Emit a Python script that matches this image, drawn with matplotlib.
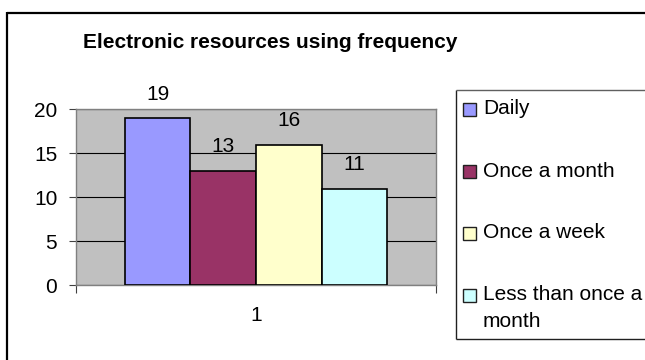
import matplotlib
matplotlib.use("Agg")
import matplotlib.pyplot as plt
from matplotlib.patches import Rectangle
from matplotlib.lines import Line2D
import numpy as np

plt.rcParams['font.family'] = ['Liberation Sans', 'DejaVu Sans']

# Data
categories = ["Daily", "Once a month", "Once a week", "Less than once a\nmonth"]
values = [19, 13, 16, 11]
colors = ["#9999FF", "#993366", "#FFFFCC", "#CCFFFF"]
group_labels = ["1"]
y_ticks = [0, 5, 10, 15, 20]

W, H = 645, 360
fig = plt.figure(figsize=(W / 100, H / 100), dpi=100)
fig.patch.set_facecolor("white")

def fx(px):
    return px / W

def fy(py):
    return 1 - py / H

def hline(x0, x1, y, **kw):
    fig.add_artist(Line2D([fx(x0), fx(x1)], [fy(y), fy(y)],
                          transform=fig.transFigure, solid_capstyle="butt", **kw))

def vline(x, y0, y1, **kw):
    fig.add_artist(Line2D([fx(x), fx(x)], [fy(y0), fy(y1)],
                          transform=fig.transFigure, solid_capstyle="butt", **kw))

# Outer chart frame (left and top edges visible)
vline(7, 12.4, 360, color="black", lw=1.6)
hline(7, 645, 13, color="black", lw=1.6)

# Plot area
ax_l, ax_r, ax_t, ax_b = 76, 436, 109.3, 285.3
ax = fig.add_axes([fx(ax_l), fy(ax_b), fx(ax_r - ax_l), (ax_b - ax_t) / H])
ax.set_facecolor("#C0C0C0")

n = len(values)
bw = 0.182
offsets = (np.arange(n) - (n - 1) / 2) * bw
for off, v, c in zip(offsets, values, colors):
    b = ax.bar(0 + off, v, width=bw, color=c, edgecolor="black", linewidth=1.2, zorder=3)
    ax.bar_label(b, labels=[str(v)], padding=10.5, fontsize=15, color="black")

ax.set_xlim(-0.5, 0.5)
ax.set_ylim(0, 20)
ax.set_yticks(y_ticks)
ax.set_yticklabels([str(t) for t in y_ticks], fontsize=15)
ax.yaxis.grid(True, color="black", linewidth=0.8, zorder=1)
ax.set_axisbelow(True)

ax.set_xticks([0])
ax.set_xticklabels(group_labels, fontsize=15)
ax.set_xticks([-0.5, 0.5], minor=True)
ax.tick_params(axis="x", which="major", length=0, pad=15)
ax.tick_params(axis="x", which="minor", length=5.5, color="#404040", width=0.8, direction="out")
ax.tick_params(axis="y", length=5, color="#404040", width=0.8, direction="out", pad=8.5)

for s in ax.spines.values():
    s.set_color("#808080")
    s.set_linewidth(1.0)

# Title
fig.text(fx(270), fy(48.3), "Electronic resources using frequency", fontsize=15,
         fontweight="bold", ha="center", va="baseline")

# Legend box: open on the right, running to the edge
leg_l, leg_t, leg_b = 456, 90, 339
vline(leg_l, leg_t, leg_b, color="#202020", lw=1.0)
hline(leg_l, 645, leg_t, color="#606060", lw=1.0)
hline(leg_l, 645, leg_b, color="#202020", lw=1.0)

baselines = [114.3, 176.7, 238.5, 300.3]
line_gap = 26.5
for lab, c, base in zip(categories, colors, baselines):
    sq = 13
    fig.add_artist(Rectangle((fx(463), fy(base + 1.7)), fx(sq), sq / H,
                             transform=fig.transFigure, facecolor=c,
                             edgecolor="#202020", lw=1.0))
    for k, line in enumerate(lab.split("\n")):
        fig.text(fx(483), fy(base + k * line_gap), line, fontsize=15,
                 ha="left", va="baseline")

fig.savefig("out.png", dpi=100)
